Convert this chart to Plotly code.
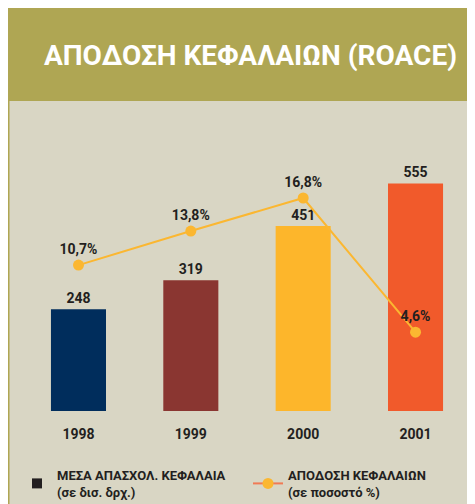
import plotly.graph_objects as go

# data
years = ["1998", "1999", "2000", "2001"]
capital = [248, 319, 451, 555]          # ΜΕΣΑ ΑΠΑΣΧΟΛ. ΚΕΦΑΛΑΙΑ (δισ. δρχ.)
roace = [10.7, 13.8, 16.8, 4.6]         # ΑΠΟΔΟΣΗ ΚΕΦΑΛΑΙΩΝ (%)
roace_labels = ["10,7%", "13,8%", "16,8%", "4,6%"]
bar_colors = ["#002d5c", "#8a3631", "#fdb62b", "#f15a2b"]

W, H = 475, 504
OFF = 8  # page body margin, the figure starts at (8, 8) on the page
FONT = "Roboto, sans-serif"
DARK = "#231f20"
OLIVE = "#afa653"
BEIGE = "#d9d6c4"


# positions below are given in page pixels, as measured on the reference
def px_x(x):
    return (x - OFF) / W


def px_y(y):
    return 1 - (y - OFF) / H


fig = go.Figure()

fig.add_trace(
    go.Bar(
        x=years,
        y=capital,
        marker={"color": bar_colors, "line": {"width": 0}},
        text=[str(v) for v in capital],
        textposition="outside",
        cliponaxis=False,
        textfont={"family": FONT, "size": 14, "color": DARK, "weight": "bold"},
        showlegend=False,
        hoverinfo="skip",
    )
)

fig.add_trace(
    go.Scatter(
        x=years,
        y=roace,
        yaxis="y2",
        mode="lines+markers+text",
        line={"color": "#fbb731", "width": 2},
        marker={"color": "#fbb731", "size": 11},
        text=roace_labels,
        textposition="top center",
        cliponaxis=False,
        textfont={"family": FONT, "size": 14, "color": DARK, "weight": "bold"},
        showlegend=False,
        hoverinfo="skip",
    )
)

# legend-only entries
fig.add_trace(
    go.Scatter(
        x=[None], y=[None],
        mode="markers",
        marker={"symbol": "square", "color": DARK, "size": 10},
        name="ΜΕΣΑ ΑΠΑΣΧΟΛ. ΚΕΦΑΛΑΙΑ<br>(σε δισ. δρχ.)",
    )
)
fig.add_trace(
    go.Scatter(
        x=[None], y=[None],
        mode="lines+markers",
        line={"color": "#f07a55", "width": 2},
        marker={"color": "#fbb731", "size": 11},
        name="ΑΠΟΔΟΣΗ ΚΕΦΑΛΑΙΩΝ<br>(σε ποσοστό %)",
    )
)

shapes = [
    # olive header band
    dict(type="rect", xref="paper", yref="paper", x0=0, x1=1,
         y0=px_y(101), y1=1, fillcolor=OLIVE, line={"width": 0}, layer="below"),
    # beige body
    dict(type="rect", xref="paper", yref="paper", x0=0, x1=1,
         y0=0, y1=px_y(101), fillcolor=BEIGE, line={"width": 0}, layer="below"),
    # olive left rule
    dict(type="rect", xref="paper", yref="paper", x0=0, x1=px_x(9.5),
         y0=0, y1=px_y(101), fillcolor=OLIVE, line={"width": 0}, layer="below"),
]

annotations = [
    dict(text="ΑΠΟΔΟΣΗ ΚΕΦΑΛΑΙΩΝ (ROACE)", xref="paper", yref="paper",
         x=px_x(42), y=px_y(55), xanchor="left", yanchor="middle", showarrow=False,
         font={"family": FONT, "size": 28, "color": "white", "weight": "bold"}),
]

fig.update_layout(
    width=W,
    height=H,
    margin={"l": 0, "r": 0, "t": 0, "b": 0},
    paper_bgcolor="white",
    plot_bgcolor="rgba(0,0,0,0)",
    shapes=shapes,
    annotations=annotations,
    bargap=0.51,
    xaxis=dict(
        domain=[px_x(22.3), px_x(471.7)],
        range=[-0.5, 3.5],
        showgrid=False, zeroline=False, showline=False,
        ticks="outside", ticklen=10, tickcolor="rgba(0,0,0,0)",
        tickfont={"family": FONT, "size": 14, "color": DARK, "weight": "bold"},
        fixedrange=True,
    ),
    yaxis=dict(
        domain=[px_y(411), px_y(110)],
        range=[0, 734],
        visible=False,
        fixedrange=True,
    ),
    yaxis2=dict(
        domain=[px_y(411), px_y(110)],
        anchor="x",
        overlaying="y",
        range=[-2.56, 24.8],
        visible=False,
        fixedrange=True,
    ),
    legend=dict(
        orientation="h",
        x=px_x(17), y=px_y(460),
        xanchor="left", yanchor="top",
        bgcolor="rgba(0,0,0,0)",
        entrywidth=186,
        entrywidthmode="pixels",
        font={"family": FONT, "size": 13, "color": DARK, "weight": "bold"},
        traceorder="normal",
    ),
    showlegend=True,
)

fig.write_html("out.html")
